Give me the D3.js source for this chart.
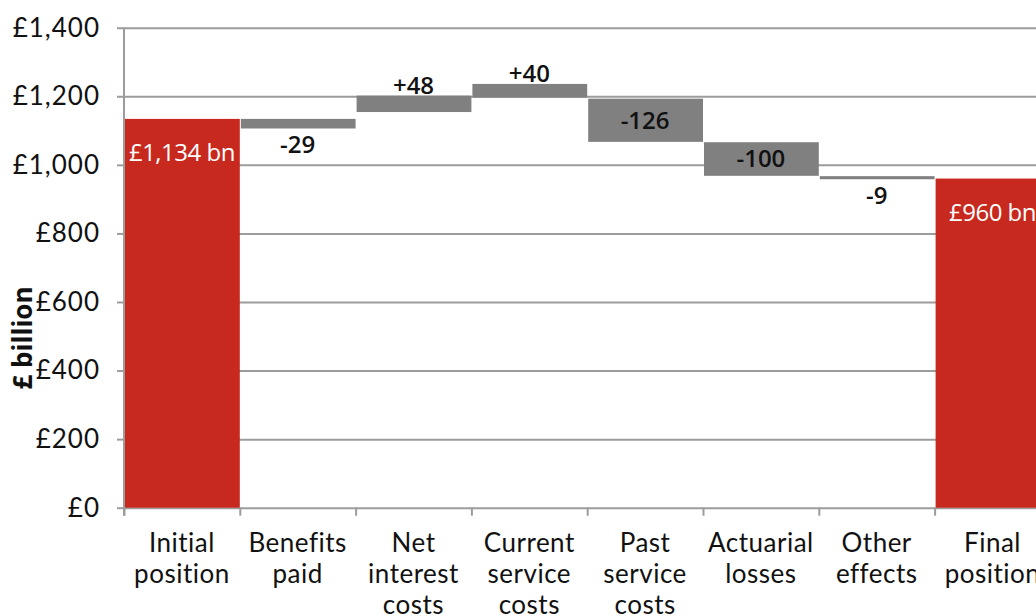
<!DOCTYPE html>
<html>
<head>
<meta charset="utf-8">
<script src="https://cdn.jsdelivr.net/npm/d3@7/dist/d3.min.js"></script>
<style>
  body { margin: 0; background: #fff; }
  svg { display: block; }
</style>
</head>
<body>
<svg id="chart" width="1036" height="616"></svg>
<script>
// waterfall: each step drawn from barLow to barHigh
const categories = [
    ["Initial", "position"],
    ["Benefits", "paid"],
    ["Net", "interest", "costs"],
    ["Current", "service", "costs"],
    ["Past", "service", "costs"],
    ["Actuarial", "losses"],
    ["Other", "effects"],
    ["Final", "position"]
];
const barLow  = [0, 1106, 1154, 1196, 1067, 968, 958, 0];
const barHigh = [1134, 1134, 1202, 1236, 1193, 1066, 967, 960];
const changes = [null, -29, 48, 40, -126, -100, -9, null];
const yTicks  = [0, 200, 400, 600, 800, 1000, 1200, 1400];

const W = 1036, H = 616;
const m = { top: 27.7, left: 124 };
const band = 115.8;
const h = 480;

const RED  = "#C8291E";
const GREY = "#808080";
const AXIS = "#9c9c9c";

const svg = d3.select("#chart");
const keys = categories.map(c => c.join(" "));

const x = d3.scaleBand().domain(keys).range([m.left, m.left + band * keys.length]).padding(0);
const xEdge = d3.scaleLinear().domain([0, keys.length]).range([m.left, m.left + band * keys.length]);
const y = d3.scaleLinear().domain([0, 1400]).range([m.top + h, m.top]);

const rows = keys.map((k, i) => ({
    key: k, lines: categories[i], lo: barLow[i], hi: barHigh[i],
    change: changes[i], total: changes[i] === null
}));

// Grid lines
svg.append("g")
    .attr("transform", `translate(${m.left},0)`)
    .call(d3.axisLeft(y).tickValues(yTicks).tickSize(-(W - m.left + 20)).tickFormat(""))
    .call(g => g.select(".domain").remove())
    .call(g => g.selectAll("line").attr("stroke", AXIS).attr("stroke-width", 2));

// Bars
svg.selectAll(".bar")
    .data(rows).enter().append("rect")
    .attr("class", "bar")
    .attr("x", d => x(d.key) + 1)
    .attr("width", x.bandwidth() - 1)
    .attr("y", d => y(d.hi))
    .attr("height", d => y(d.lo) - y(d.hi))
    .attr("fill", d => d.total ? RED : GREY);

// Y axis
svg.append("g")
    .attr("transform", `translate(${m.left},0)`)
    .call(d3.axisLeft(y).tickValues(yTicks).tickSize(7).tickPadding(17)
        .tickFormat(v => "£" + d3.format(",")(v)))
    .call(g => g.select(".domain").attr("stroke", AXIS).attr("stroke-width", 2)
        .attr("d", `M0,${y(1400)}V${y(0) + 8}`))
    .call(g => g.selectAll("line").attr("stroke", AXIS).attr("stroke-width", 2))
    .call(g => g.selectAll("text").attr("fill", "#111")
        .attr("font-family", "Lato").attr("font-size", 26).attr("letter-spacing", 1));

// X axis ticks at band edges
svg.append("g")
    .attr("transform", `translate(0,${y(0)})`)
    .call(d3.axisBottom(xEdge).tickValues(d3.range(keys.length + 1)).tickSize(8).tickFormat(""))
    .call(g => g.select(".domain").remove())
    .call(g => g.selectAll("line").attr("stroke", AXIS).attr("stroke-width", 2));

// Category labels
const cat = svg.append("g").selectAll("text")
    .data(rows).enter().append("text")
    .attr("x", d => x(d.key) + x.bandwidth() / 2)
    .attr("y", y(0) + 44)
    .attr("text-anchor", "middle")
    .attr("font-family", "Lato").attr("font-size", 26).attr("letter-spacing", 0.5)
    .attr("fill", "#111");
cat.selectAll("tspan")
    .data(d => d.lines).enter().append("tspan")
    .attr("x", function () { return d3.select(this.parentNode).attr("x"); })
    .attr("dy", (_, i) => i === 0 ? 0 : 31)
    .text(t => t);

// Y axis title
svg.append("text")
    .attr("transform", `translate(32,338) rotate(-90)`)
    .attr("text-anchor", "middle")
    .attr("font-family", "Open Sans").attr("font-weight", 700).attr("font-size", 26)
    .attr("fill", "#111")
    .text("£ billion");

// Value labels
const fmtChange = v => (v > 0 ? "+" : "") + v;
svg.append("g").selectAll("text")
    .data(rows).enter().append("text")
    .attr("x", d => x(d.key) + x.bandwidth() / 2)
    .attr("y", d => {
        const top = y(d.hi), bot = y(d.lo), ph = bot - top;
        if (d.total) return top + 34;
        if (ph < 20) return d.change < 0 ? bot + 16 : top - 10;
        return (top + bot) / 2;
    })
    .attr("dy", "0.35em")
    .attr("text-anchor", "middle")
    .attr("font-family", "Open Sans")
    .attr("font-size", 24)
    .attr("font-weight", d => d.total ? 400 : 600)
    .attr("letter-spacing", d => d.total ? -0.5 : 0)
    .attr("fill", d => d.total ? "#fff" : "#111")
    .text(d => d.total ? "£" + d3.format(",")(d.hi) + " bn" : fmtChange(d.change));
</script>
</body>
</html>
